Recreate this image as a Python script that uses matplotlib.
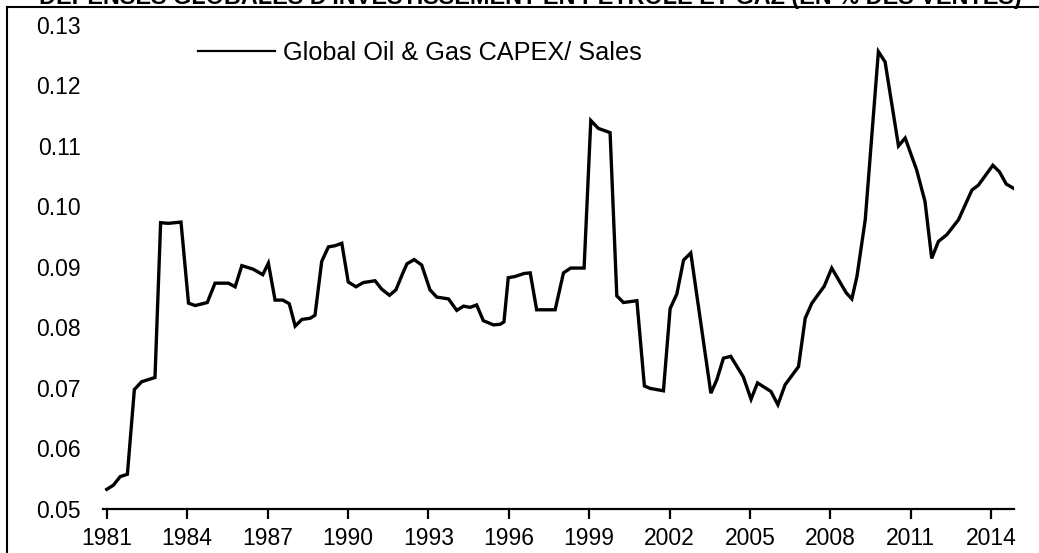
import matplotlib
matplotlib.use("Agg")
import matplotlib.pyplot as plt
from matplotlib.lines import Line2D

# chart text
title = "DÉPENSES GLOBALES D'INVESTISSEMENT EN PÉTROLE ET GAZ (EN % DES VENTES)"
series_name = "Global Oil & Gas CAPEX/ Sales"

# values (year, capex / sales)
years = [1981.0, 1981.25, 1981.5, 1981.77, 1982.03, 1982.3, 1982.8, 1983.01, 1983.3, 1983.77,
         1984.05, 1984.3, 1984.75, 1985.04, 1985.54, 1985.79, 1986.04, 1986.47, 1986.82, 1987.03,
         1987.28, 1987.57, 1987.81, 1988.03, 1988.28, 1988.59, 1988.77, 1989.02, 1989.27, 1989.52,
         1989.77, 1990.01, 1990.3, 1990.57, 1991.01, 1991.26, 1991.55, 1991.79, 1992.04, 1992.2,
         1992.47, 1992.75, 1993.06, 1993.31, 1993.75, 1994.06, 1994.31, 1994.56, 1994.8, 1995.05,
         1995.43, 1995.68, 1995.82, 1995.98, 1996.23, 1996.57, 1996.8, 1997.04, 1997.73, 1998.04,
         1998.31, 1998.81, 1999.06, 1999.34, 1999.78, 2000.03, 2000.28, 2000.78, 2001.06, 2001.27,
         2001.77, 2002.02, 2002.27, 2002.52, 2002.79, 2003.54, 2003.76, 2004.01, 2004.28, 2004.75,
         2005.04, 2005.28, 2005.78, 2006.04, 2006.31, 2006.81, 2007.06, 2007.31, 2007.77, 2008.05,
         2008.59, 2008.8, 2008.99, 2009.3, 2009.79, 2010.04, 2010.54, 2010.79, 2011.22, 2011.53,
         2011.78, 2012.03, 2012.34, 2012.78, 2013.28, 2013.52, 2014.06, 2014.31, 2014.56, 2014.83]
capex_sales = [0.0532, 0.0539, 0.0553, 0.0557, 0.0697, 0.0710, 0.0717, 0.0973, 0.0972, 0.0974,
               0.0840, 0.0836, 0.0841, 0.0873, 0.0873, 0.0867, 0.0902, 0.0896, 0.0887, 0.0906,
               0.0845, 0.0845, 0.0839, 0.0802, 0.0813, 0.0815, 0.0820, 0.0909, 0.0933, 0.0935,
               0.0939, 0.0875, 0.0867, 0.0874, 0.0877, 0.0863, 0.0853, 0.0862, 0.0889, 0.0905,
               0.0912, 0.0903, 0.0862, 0.0850, 0.0847, 0.0828, 0.0835, 0.0833, 0.0837, 0.0811,
               0.0804, 0.0805, 0.0809, 0.0882, 0.0884, 0.0889, 0.0890, 0.0829, 0.0829, 0.0890,
               0.0898, 0.0898, 0.1142, 0.1129, 0.1122, 0.0852, 0.0841, 0.0844, 0.0703, 0.0699,
               0.0695, 0.0831, 0.0855, 0.0911, 0.0923, 0.0691, 0.0713, 0.0749, 0.0752, 0.0718,
               0.0681, 0.0708, 0.0694, 0.0672, 0.0705, 0.0735, 0.0815, 0.0840, 0.0868, 0.0898,
               0.0857, 0.0847, 0.0884, 0.0978, 0.1256, 0.1239, 0.1100, 0.1113, 0.1060, 0.1008,
               0.0914, 0.0942, 0.0953, 0.0978, 0.1027, 0.1035, 0.1068, 0.1057, 0.1037, 0.1030]

xticks = list(range(1981, 2015, 3))
yticks = [0.05, 0.06, 0.07, 0.08, 0.09, 0.10, 0.11, 0.12, 0.13]

W, H = 1039, 553
plt.rcParams['font.family'] = ['Liberation Sans', 'DejaVu Sans']

fig = plt.figure(figsize=(W / 100, H / 100), dpi=100)
ax = fig.add_axes([103 / W, 1 - 508.7 / H, (1014 - 103) / W, (508.7 - 25) / H])

ax.plot(years, capex_sales, color='black', lw=2.4, solid_joinstyle='miter', label=series_name)

ax.set_xlim(1980.86, 2014.85)
ax.set_ylim(0.05, 0.13)
ax.set_xticks(xticks)
ax.set_yticks(yticks)
ax.set_yticklabels(["%.2f" % v for v in yticks])

for s in ['top', 'right', 'left']:
    ax.spines[s].set_visible(False)
ax.spines['bottom'].set_linewidth(1.6)
ax.tick_params(axis='x', direction='out', length=7, width=1.6, pad=6, labelsize=16.5)
ax.tick_params(axis='y', length=0, pad=16, labelsize=16.5)

leg = ax.legend(loc='upper left', bbox_to_anchor=(198 / W, 1 - 41 / H),
                bbox_transform=fig.transFigure, frameon=False, fontsize=18.2,
                handlelength=3.05, handletextpad=0.3, borderpad=0, borderaxespad=0)
for h in leg.get_lines():
    h.set_linewidth(1.6)

# cut-off title at the very top and the outer box edges
fig.text(0.51, 1 + 4.5 / H, title, ha='center', va='center', fontsize=16.8, fontweight='bold')
fig.add_artist(Line2D([7 / W, 1], [1 - 7 / H, 1 - 7 / H], color='black', lw=1.5))
fig.add_artist(Line2D([7 / W, 7 / W], [0, 1 - 7 / H], color='black', lw=1.5))

fig.savefig('out.png', dpi=100)
